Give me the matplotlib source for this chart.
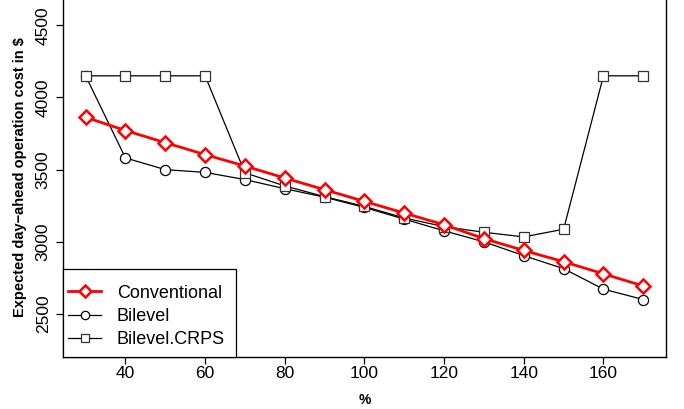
import matplotlib
matplotlib.use("Agg")
import matplotlib.pyplot as plt
from matplotlib.patches import Rectangle

plt.rcParams['font.family'] = ['Liberation Sans', 'DejaVu Sans']

x = [30, 40, 50, 60, 70, 80, 90, 100, 110, 120, 130, 140, 150, 160, 170]
conventional = [3863, 3771, 3687, 3604, 3525, 3442, 3361, 3280, 3199, 3118, 3022, 2940, 2862, 2778, 2694]
bilevel = [4150, 3581, 3500, 3481, 3431, 3368, 3309, 3238, 3157, 3076, 3000, 2904, 2814, 2672, 2600]
bilevel_crps = [4150, 4150, 4150, 4150, 3478, 3387, 3313, 3245, 3165, 3105, 3066, 3034, 3087, 4150, 4150]
xticks = [40, 60, 80, 100, 120, 140, 160]
yticks = [2500, 3000, 3500, 4000, 4500]

W, H = 684, 409
fig = plt.figure(figsize=(W / 100, H / 100), dpi=100)
left, right, bottom, top = 63.3, 666, 356.7, -3
ax = fig.add_axes([left / W, (H - bottom) / H, (right - left) / W, (bottom - top) / H])

ax.plot(x, conventional, color='red', lw=2, marker='D', ms=7, mfc='white', mec='red', mew=1.8,
        label='Conventional', zorder=3)
ax.plot(x, bilevel, color='black', lw=0.9, marker='o', ms=7.3, mfc='white', mec='black', mew=0.9,
        label='Bilevel', zorder=2)
ax.plot(x, bilevel_crps, color='black', lw=0.9, marker='s', ms=6.5, mfc='white', mec='#333333', mew=0.9,
        label='Bilevel.CRPS', zorder=2)

ax.set_xlim(24.4, 175.7)
ax.set_ylim(2204, 4696)
ax.set_xticks(xticks)
ax.set_yticks(yticks)
ax.tick_params(axis='x', length=5, width=0.9, pad=2, labelsize=12.5)
ax.tick_params(axis='y', length=5, width=0.9, pad=4, labelsize=12.5)
for lab in ax.get_yticklabels():
    lab.set_rotation(90)
    lab.set_va('center')
for s in ax.spines.values():
    s.set_linewidth(1.0)

ax.set_xlabel('%', fontweight='bold', fontsize=10, labelpad=8)
ax.set_ylabel('Expected day\u2212ahead operation cost in $', fontweight='bold', fontsize=10.5, labelpad=6)

# legend box
box_l, box_r, box_t = 63.3, 236, 269
rect = Rectangle((box_l / W, (H - bottom) / H), (box_r - box_l) / W, (bottom - box_t) / H,
                 transform=fig.transFigure, facecolor='white', edgecolor='black', lw=0.9,
                 zorder=4, clip_on=False)
ax.add_patch(rect)

leg = ax.legend(loc='upper left', bbox_to_anchor=(68 / W, (H - 284.5) / H),
                bbox_transform=fig.transFigure, borderaxespad=0, borderpad=0, fontsize=13,
                handlelength=1.85, handletextpad=0.85, labelspacing=0.35, frameon=False)
leg.set_zorder(5)
for h, ms in zip(leg.legend_handles, [6, 6, 5.5]):
    h.set_markersize(ms)

fig.savefig('out.png', dpi=100)
